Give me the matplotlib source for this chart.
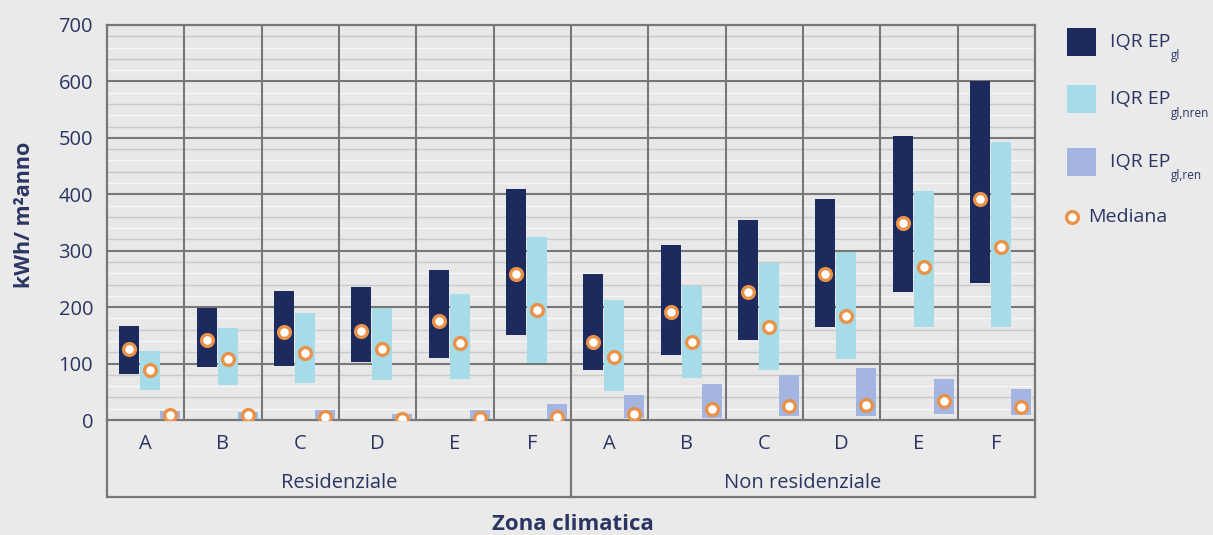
import numpy as np
import matplotlib
matplotlib.use('Agg')
import matplotlib.pyplot as plt
from matplotlib.patches import Rectangle
from matplotlib.lines import Line2D

# dati (kWh/m2 anno)
zone = ['A', 'B', 'C', 'D', 'E', 'F']
categorie = ['Residenziale', 'Non residenziale']

# IQR EP_gl (q1, q3, mediana)
gl_q1 = [82, 94, 96, 103, 110, 150, 89, 115, 141, 164, 227, 243]
gl_q3 = [167, 199, 228, 235, 265, 410, 258, 310, 355, 392, 503, 600]
gl_med = [126, 142, 156, 158, 175, 258, 138, 191, 227, 258, 349, 392]

# IQR EP_gl,nren
nren_q1 = [53, 62, 66, 71, 73, 101, 52, 74, 88, 108, 165, 165]
nren_q3 = [122, 163, 190, 199, 223, 324, 213, 238, 279, 297, 406, 493]
nren_med = [89, 108, 119, 126, 137, 195, 111, 139, 165, 185, 271, 307]

# IQR EP_gl,ren
ren_q1 = [2, 2, 2, 1, 2, 2, 4, 4, 7, 7, 11, 9]
ren_q3 = [16, 15, 17, 10, 17, 29, 44, 63, 80, 92, 73, 55]
ren_med = [9, 9, 6, 2, 4, 6, 10, 20, 24, 27, 33, 23]

c_gl = '#1c2a5e'
c_nren = '#a6dce7'
c_ren = '#a4b5e2'
c_med = '#e8924a'
c_txt = '#2a3563'
c_grid = '#777777'

plt.rcParams['font.family'] = ['Open Sans', 'DejaVu Sans']

W, H = 1213, 535
fig = plt.figure(figsize=(W / 100, H / 100), dpi=100)
fig.patch.set_facecolor('#eaeaea')
ax = fig.add_axes([107 / W, 1 - 420 / H, 928 / W, 395 / H])
ax.set_facecolor('#e8e8e8')

n = len(gl_q1)
x = np.arange(n)
w = 0.26
off = [-0.21, 0.06, 0.32]

series = [(gl_q1, gl_q3, gl_med, c_gl), (nren_q1, nren_q3, nren_med, c_nren),
          (ren_q1, ren_q3, ren_med, c_ren)]
for (q1, q3, med, col), o in zip(series, off):
    q1 = np.array(q1)
    q3 = np.array(q3)
    ax.bar(x + o, q3 - q1, bottom=q1, width=w, color=col, zorder=3)
    ax.plot(x + o, med, 'o', ls='none', markersize=8.5, markerfacecolor='white',
            markeredgecolor=c_med, markeredgewidth=2.4, zorder=4)

ax.set_xlim(-0.5, n - 0.5)
ax.set_ylim(0, 700)

# griglia
for v in range(20, 700, 20):
    if v % 100:
        ax.axhline(v, color='#f7f7f7' if (v // 20) % 2 else '#c9c9c9', lw=1.0, zorder=1)
for v in range(100, 700, 100):
    ax.axhline(v, color=c_grid, lw=1.5, zorder=2)
for b in np.arange(0.5, n - 0.5, 1):
    ax.axvline(b, color=c_grid, lw=1.5, zorder=2)
for s in ax.spines.values():
    s.set_color(c_grid)
    s.set_linewidth(1.6)

ax.set_yticks(range(0, 701, 100))
ax.tick_params(axis='y', length=0, pad=10, labelsize=14.5, labelcolor=c_txt)
ax.set_xticks(x)
ax.set_xticklabels(zone * 2)
ax.tick_params(axis='x', length=0, pad=10, labelsize=14.5, labelcolor=c_txt)

# tabella sotto l'asse
tr = ax.get_xaxis_transform()
yb = -(497 - 420) / 395
for xv in [-0.5, 5.5, n - 0.5]:
    ax.plot([xv, xv], [0, yb], color=c_grid, lw=1.6, transform=tr, clip_on=False)
ax.plot([-0.5, n - 0.5], [yb, yb], color=c_grid, lw=1.6, transform=tr, clip_on=False)
ax.text(2.5, -(483 - 420) / 395, categorie[0], transform=tr, ha='center', va='center',
        fontsize=14.5, color=c_txt)
ax.text(8.5, -(483 - 420) / 395, categorie[1], transform=tr, ha='center', va='center',
        fontsize=14.5, color=c_txt)
fig.text(573 / W, 1 - 525 / H, 'Zona climatica', ha='center', va='center',
         fontsize=16, fontweight='bold', color=c_txt)

fig.text(25 / W, 1 - 215 / H, 'kWh/ m²anno', rotation=90, ha='center', va='center',
         fontsize=15.5, fontweight='bold', color=c_txt)

# legenda
fig.canvas.draw()
rend = fig.canvas.get_renderer()
leg_col = [c_gl, c_nren, c_ren]
leg_sub = ['gl', 'gl,nren', 'gl,ren']
leg_y = [42, 99, 162]
for col, sub, yc in zip(leg_col, leg_sub, leg_y):
    fig.patches.append(Rectangle((1067 / W, 1 - (yc + 14) / H), 29 / W, 28 / H,
                                 facecolor=col, transform=fig.transFigure, figure=fig))
    t = fig.text(1110 / W, 1 - yc / H, 'IQR EP', ha='left', va='center',
                 fontsize=14, color=c_txt)
    bb = t.get_window_extent(renderer=rend)
    fig.text(bb.x1 / W + 0.0005, 1 - (yc + 14) / H, sub, ha='left', va='center',
             fontsize=8.5, color=c_txt)
fig.lines.append(Line2D([1072 / W], [1 - 217 / H], marker='o', markersize=8.5,
                        markerfacecolor='white', markeredgecolor=c_med,
                        markeredgewidth=2.4, transform=fig.transFigure, figure=fig))
fig.text(1088 / W, 1 - 217 / H, 'Mediana', ha='left', va='center',
         fontsize=14, color=c_txt)

plt.savefig('out.png', dpi=100, facecolor=fig.get_facecolor())
